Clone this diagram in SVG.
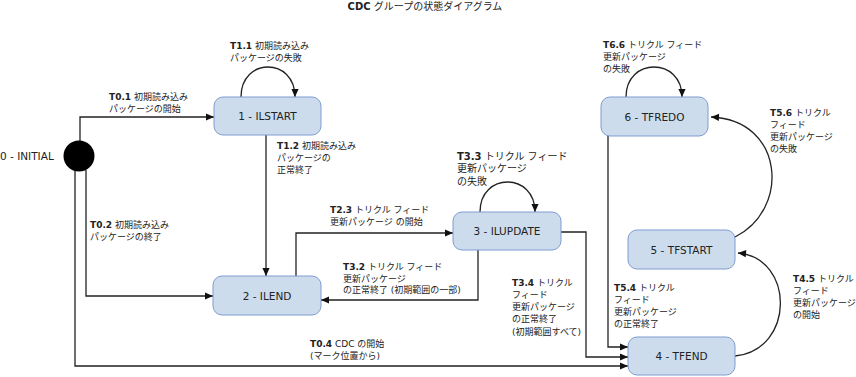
<svg xmlns="http://www.w3.org/2000/svg" width="856" height="377" viewBox="0 0 856 377">
<style>
.node rect{fill:#cddcec;stroke:#7f9bd1;stroke-width:1}
.node text{font-family:"DejaVu Sans","Noto Sans CJK JP",sans-serif;font-size:10.5px;fill:#222;text-anchor:middle}
.lbl{font-family:"DejaVu Sans","Noto Sans CJK JP",sans-serif;font-size:9px;fill:#222}
.big{font-size:10px}
.b{font-weight:bold}
.conn path{fill:none;stroke:#222;stroke-width:1.3}
.title{font-family:"DejaVu Sans","Noto Sans CJK JP",sans-serif;font-size:10px;fill:#222;text-anchor:middle}
</style>
<defs>
<marker id="arr" viewBox="0 0 10 10" refX="10" refY="5" markerWidth="9" markerHeight="8" markerUnits="userSpaceOnUse" orient="auto">
<path d="M0,0.5 L10,5 L0,9.5 z" fill="#111"/>
</marker>
</defs>
<rect width="856" height="377" fill="#fff"/>
<text class="title" x="425" y="9.5"><tspan class="b">CDC</tspan> グループの状態ダイアグラム</text>

<g class="conn" marker-end="url(#arr)">
<path id="c01" d="M80,141 V117 H214" marker-end="url(#arr)"/>
<path id="c02" d="M86,170 V296 H213" marker-end="url(#arr)"/>
<path id="c04" d="M75,171 V366 H628" marker-end="url(#arr)"/>
<path id="c11" d="M241,97 C241,57 295,57 295,97" marker-end="url(#arr)"/>
<path id="c12" d="M266,135 V276" marker-end="url(#arr)"/>
<path id="c23" d="M296,276 V233 H453" marker-end="url(#arr)"/>
<path id="c32" d="M478,250 V300 H321" marker-end="url(#arr)"/>
<path id="c33" d="M480,212 C480,172 535,172 535,212" marker-end="url(#arr)"/>
<path id="c34" d="M561,232 H586 V357 H628" marker-end="url(#arr)"/>
<path id="c54" d="M608,136 V347 H628" marker-end="url(#arr)"/>
<path id="c66" d="M626,97 C626,57 682,57 682,97" marker-end="url(#arr)"/>
<path id="c45" d="M735,356 C795,350 795,258 738,253" marker-end="url(#arr)"/>
<path id="c56" d="M735,237 C790,210 785,120 711,117" marker-end="url(#arr)"/>
</g>

<g id="n0" class="node">
<circle cx="79" cy="156" r="15.5" fill="#000"/>
<text x="0" y="160" style="text-anchor:start">0 - INITIAL</text>
</g>
<g id="n1" class="node"><rect x="214" y="97" width="107" height="38" rx="9"/><text x="267.5" y="120">1 - ILSTART</text></g>
<g id="n2" class="node"><rect x="213" y="276" width="108" height="39" rx="9"/><text x="267" y="299.5">2 - ILEND</text></g>
<g id="n3" class="node"><rect x="453" y="212" width="108" height="38" rx="9"/><text x="507" y="235">3 - ILUPDATE</text></g>
<g id="n6" class="node"><rect x="601" y="97" width="107" height="39" rx="9"/><text x="654.5" y="120.5">6 - TFREDO</text></g>
<g id="n5" class="node"><rect x="628" y="230" width="107" height="39" rx="9"/><text x="681.5" y="253.5">5 - TFSTART</text></g>
<g id="n4" class="node"><rect x="628" y="337" width="107" height="38" rx="9"/><text x="681.5" y="360">4 - TFEND</text></g>

<g id="labels">
<text class="lbl" x="109" y="100"><tspan class="b">T0.1</tspan> 初期読み込み<tspan x="109" y="112">パッケージの開始</tspan></text>
<text class="lbl" x="230" y="49"><tspan class="b">T1.1</tspan> 初期読み込み<tspan x="230" y="61">パッケージの失敗</tspan></text>
<text class="lbl" x="277" y="149"><tspan class="b">T1.2</tspan> 初期読み込み<tspan x="277" y="161">パッケージの</tspan><tspan x="277" y="173">正常終了</tspan></text>
<text class="lbl" x="90" y="228"><tspan class="b">T0.2</tspan> 初期読み込み<tspan x="90" y="240">パッケージの終了</tspan></text>
<text class="lbl" x="310" y="347"><tspan class="b">T0.4</tspan> CDC の開始<tspan x="310" y="359">(マーク位置から)</tspan></text>
<text class="lbl" x="330" y="213"><tspan class="b">T2.3</tspan> トリクル フィード<tspan x="330" y="225">更新パッケージ の開始</tspan></text>
<text class="lbl" x="343" y="270"><tspan class="b">T3.2</tspan> トリクル フィード<tspan x="343" y="282">更新パッケージ</tspan><tspan x="343" y="293">の正常終了 (初期範囲の一部)</tspan></text>
<text class="lbl big" x="457" y="160"><tspan class="b">T3.3</tspan> トリクル フィード<tspan x="457" y="172">更新パッケージ</tspan><tspan x="457" y="185">の失敗</tspan></text>
<text class="lbl" x="512" y="286"><tspan class="b">T3.4</tspan> トリクル<tspan x="512" y="298">フィード</tspan><tspan x="512" y="310">更新パッケージ</tspan><tspan x="512" y="322">の正常終了</tspan><tspan x="512" y="335">(初期範囲すべて)</tspan></text>
<text class="lbl" x="603" y="48"><tspan class="b">T6.6</tspan> トリクル フィード<tspan x="603" y="60">更新パッケージ</tspan><tspan x="603" y="72">の失敗</tspan></text>
<text class="lbl" x="770" y="116"><tspan class="b">T5.6</tspan> トリクル<tspan x="770" y="128">フィード</tspan><tspan x="770" y="140">更新パッケージ</tspan><tspan x="770" y="152">の失敗</tspan></text>
<text class="lbl" x="614" y="291"><tspan class="b">T5.4</tspan> トリクル<tspan x="614" y="303">フィード</tspan><tspan x="614" y="315">更新パッケージ</tspan><tspan x="614" y="327">の正常終了</tspan></text>
<text class="lbl" x="793" y="282"><tspan class="b">T4.5</tspan> トリクル<tspan x="793" y="294">フィード</tspan><tspan x="793" y="306">更新パッケージ</tspan><tspan x="793" y="318">の開始</tspan></text>
</g>
</svg>
